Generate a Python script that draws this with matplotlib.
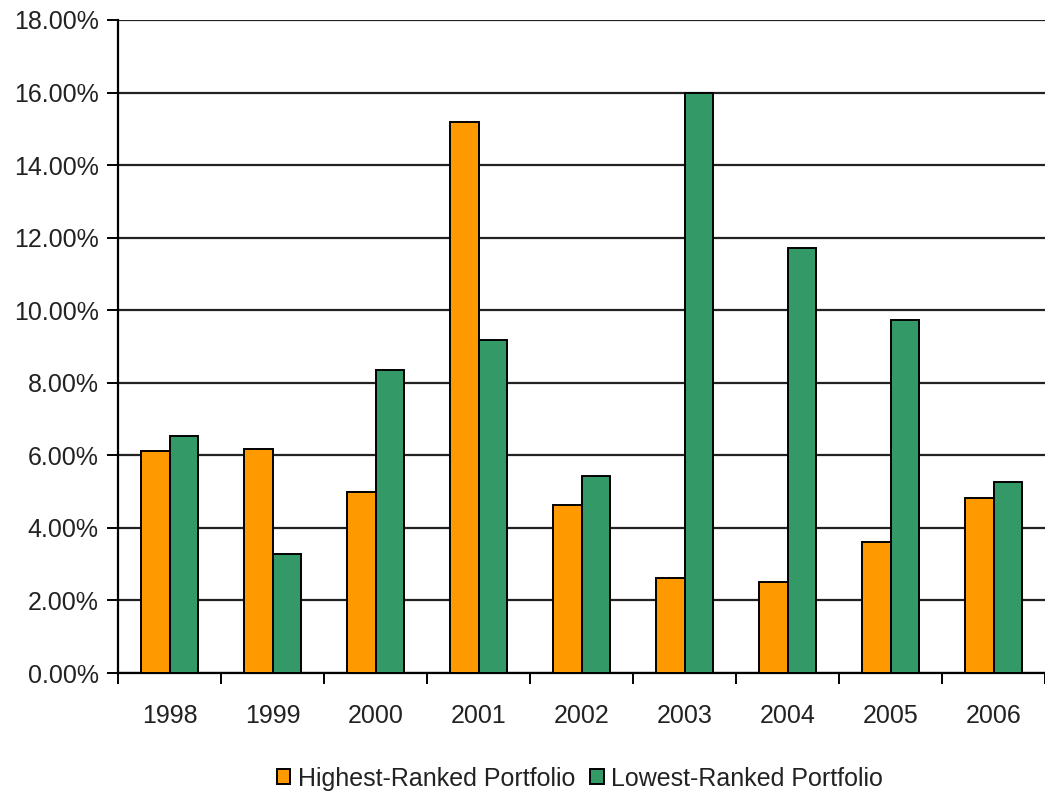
import numpy as np
import matplotlib
matplotlib.use('Agg')
from matplotlib import pyplot as plt
from matplotlib.ticker import FuncFormatter, FixedLocator

years = ['1998', '1999', '2000', '2001', '2002', '2003', '2004', '2005', '2006']
highest = [6.12, 6.17, 4.99, 15.19, 4.63, 2.62, 2.51, 3.61, 4.82]
lowest = [6.53, 3.28, 8.35, 9.18, 5.43, 15.99, 11.71, 9.73, 5.26]

plt.rcParams['font.family'] = ['Liberation Sans', 'DejaVu Sans']

fig = plt.figure(figsize=(10.45, 7.98), dpi=100)
ax = fig.add_axes([0.113, 0.1566, 0.887, 0.8184])

x = np.arange(len(years))
w = 0.28
ax.bar(x - w / 2, highest, w, color='#FF9900', edgecolor='black', linewidth=1.4,
       label='Highest-Ranked Portfolio', zorder=3)
ax.bar(x + w / 2, lowest, w, color='#339966', edgecolor='black', linewidth=1.4,
       label='Lowest-Ranked Portfolio', zorder=3)

ax.set_xlim(-0.5, len(years) - 0.5)
ax.set_ylim(0, 18)
ax.set_yticks(np.arange(0, 19, 2))
ax.yaxis.set_major_formatter(FuncFormatter(lambda v, p: f'{v:.2f}%'))
ax.yaxis.grid(True, color='#222222', linewidth=1.6, zorder=0)

ax.set_xticks(x)
ax.set_xticklabels(years)
ax.tick_params(axis='x', which='major', length=0, pad=22)
ax.xaxis.set_minor_locator(FixedLocator(np.arange(-0.5, len(years), 1.0)))
ax.tick_params(axis='x', which='minor', length=8, width=1.4, color='black')
ax.tick_params(axis='y', length=8, width=1.4, pad=6)
ax.tick_params(labelsize=18, labelcolor='#222222')

for s in ['top', 'right']:
    ax.spines[s].set_visible(False)
ax.spines['left'].set_linewidth(1.6)
ax.spines['bottom'].set_linewidth(1.6)

fig.legend(loc='lower center', bbox_to_anchor=(0.555, -0.019), ncol=2, frameon=False,
           fontsize=18, handlelength=0.55, handleheight=0.55, handletextpad=0.3,
           columnspacing=0.6, labelcolor='#222222')

fig.savefig('out.png', dpi=100)
